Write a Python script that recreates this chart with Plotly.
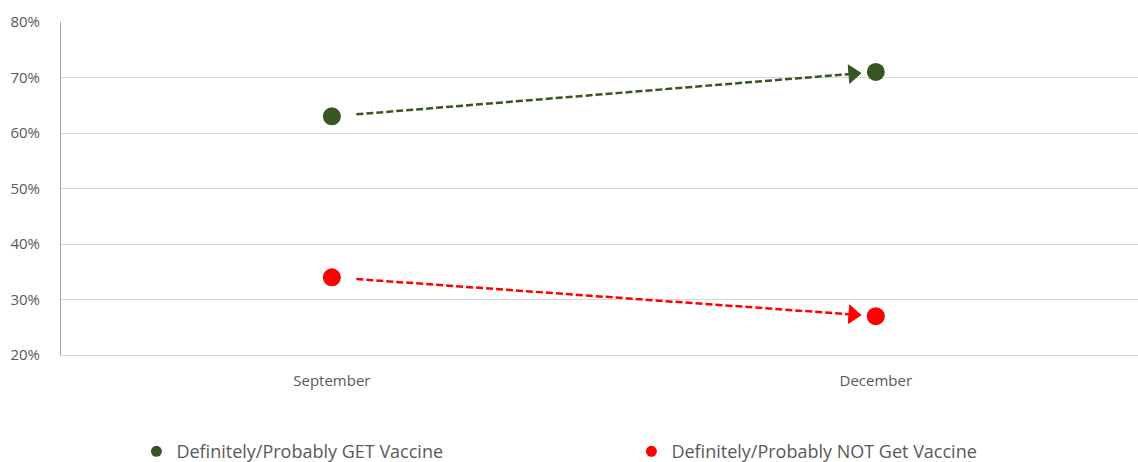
import plotly.graph_objects as go

# Survey waves and shares of respondents
months = ["September", "December"]
get_vaccine = [0.63, 0.71]
not_get_vaccine = [0.34, 0.27]
y_ticks = [0.2, 0.3, 0.4, 0.5, 0.6, 0.7, 0.8]

GREEN = "#375623"
RED = "#ff0000"
TEXT = "#595959"
FONT = "Open Sans"

xpos = list(range(len(months)))

fig = go.Figure()


def arrow_between(y_vals, color, t0=0.045, t1=0.958):
    # dashed connector from the first wave to the second, ending in an arrowhead
    xs = [xpos[0] + (xpos[1] - xpos[0]) * t for t in (t0, t1)]
    ys = [y_vals[0] + (y_vals[1] - y_vals[0]) * t for t in (t0, t1)]
    fig.add_trace(go.Scatter(
        x=xs, y=ys, mode="lines", showlegend=False, hoverinfo="skip",
        line=dict(color=color, width=2.5, dash="7px,3px"),
    ))
    fig.add_trace(go.Scatter(
        x=xs, y=ys, mode="markers", showlegend=False, hoverinfo="skip",
        marker=dict(symbol="triangle-up", size=[0, 16], color=color,
                    opacity=1, angleref="previous",
                    line=dict(width=1, color=color)),
    ))


arrow_between(get_vaccine, GREEN)
arrow_between(not_get_vaccine, RED)

for name, vals, color in [
    ("Definitely/Probably GET Vaccine", get_vaccine, GREEN),
    ("Definitely/Probably NOT Get Vaccine", not_get_vaccine, RED),
]:
    fig.add_trace(go.Scatter(
        x=xpos, y=vals, mode="markers", showlegend=False, name=name,
        marker=dict(size=18, color=color, line=dict(width=0)),
    ))
    # small swatch for the legend
    fig.add_trace(go.Scatter(
        x=[None], y=[None], mode="markers", name=name,
        marker=dict(size=11, color=color, line=dict(width=0)),
    ))

fig.update_layout(
    width=1138, height=462,
    margin=dict(l=61, r=0, t=22, b=107, autoexpand=False),
    plot_bgcolor="white", paper_bgcolor="white",
    font=dict(family=FONT, color=TEXT, size=15),
    legend=dict(
        orientation="h", x=0.07, xanchor="left", y=-0.29, yanchor="middle",
        font=dict(size=18, color=TEXT, family=FONT),
        entrywidth=450, entrywidthmode="pixels",
        itemclick=False,
    ),
    xaxis=dict(
        range=[-0.498, 1.482], tickvals=xpos, ticktext=months,
        showgrid=False, zeroline=False,
        showline=True, linecolor="#d9d9d9", linewidth=1,
        ticks="", ticklabelstandoff=12,
        tickfont=dict(size=15, color=TEXT),
    ),
    yaxis=dict(
        range=[0.2, 0.8], tickvals=y_ticks, tickformat=".0%",
        showgrid=True, gridcolor="#d9d9d9", gridwidth=1,
        zeroline=False, showline=True, linecolor="#a6a6a6", linewidth=1,
        ticks="", ticklabelstandoff=17,
        tickfont=dict(size=15, color=TEXT),
    ),
)

fig.write_html("out.html")
